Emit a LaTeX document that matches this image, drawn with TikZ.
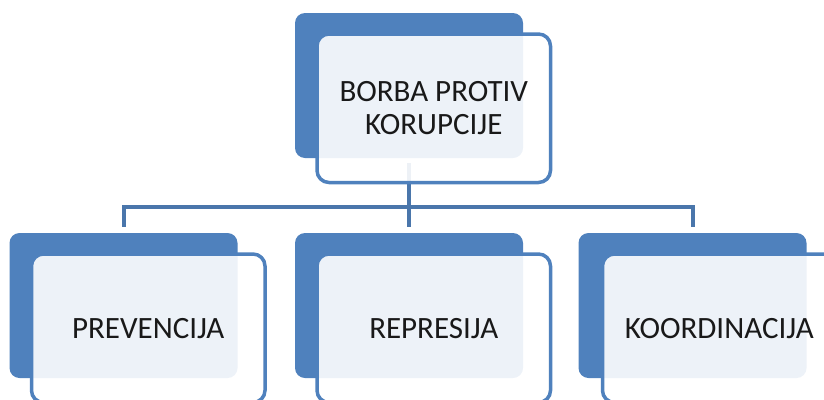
\documentclass[tikz,border=0pt]{standalone}
\usepackage{fontspec}
\setmainfont{Carlito}
\usetikzlibrary{positioning}
\definecolor{PlateBlue}{HTML}{4F81BD}
\definecolor{LinkBlue}{HTML}{4A76AB}

\begin{document}
\begin{tikzpicture}[x=1pt, y=-1pt,
    plate/.style={fill=PlateBlue, rounded corners=10pt, minimum width=228pt,
        minimum height=145pt, inner sep=0pt, outer sep=0pt},
    card/.style={draw=PlateBlue, line width=3.5pt, fill=white, fill opacity=0.9,
        text opacity=1, rounded corners=12pt, minimum width=233.5pt,
        minimum height=148.5pt, inner sep=0pt, outer sep=0pt, align=center,
        font=\fontsize{31}{33}\selectfont, text=black!90, anchor=north west},
    link/.style={draw=LinkBlue, line width=4pt}]
    \useasboundingbox (0,0) rectangle (824,399);
    \clip (0,0) rectangle (824,399);

    % Back plates
    \node[plate] (rootback) at (409,85.5) {};
    \node[plate] (prevback) at (123.5,305.5) {};
    \node[plate] (repback) at (409,305.5) {};
    \node[plate] (koorback) at (692.5,305.5) {};

    % Connectors (behind the cards)
    \draw[link, shorten <=5pt] (rootback.south) -- ++(0,49) coordinate (bus);
    \draw[link, shorten >=6pt] (bus) -| (prevback.north);
    \draw[link, shorten >=6pt] (bus) -- (repback.north);
    \draw[link, shorten >=6pt] (bus) -| (koorback.north);

    % Front cards, shifted down-right from the plates
    \node[card] (root) at ([xshift=22pt,yshift=-21pt]rootback.north west) {BORBA PROTIV\\KORUPCIJE};
    \node[card] (prev) at ([xshift=22pt,yshift=-21pt]prevback.north west) {PREVENCIJA};
    \node[card] (rep) at ([xshift=22pt,yshift=-21pt]repback.north west) {REPRESIJA};
    \node[card] (koor) at ([xshift=24pt,yshift=-21pt]koorback.north west) {KOORDINACIJA};
\end{tikzpicture}
\end{document}
